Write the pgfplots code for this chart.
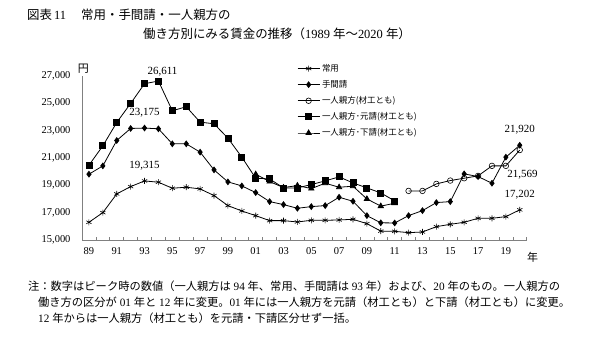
\documentclass[border=0pt]{standalone}
\usepackage{fontspec}
\setmainfont{Liberation Serif}
\newfontfamily\cjk{Noto Sans CJK JP}
\usepackage{pgfplots}
\pgfplotsset{compat=1.18}
\begin{document}
\begin{tikzpicture}
\path[use as bounding box, fill=white] (0,0) rectangle (600bp,342bp);
\begin{axis}[
  at={(82bp,102bp)}, anchor=south west,
  scale only axis, width=444.7bp, height=164.3bp,
  xmin=88.5, xmax=120.5, ymin=15000, ymax=27000,
  axis x line=bottom, axis y line=left,
  axis line style={-, draw=gray, line width=0.8pt},
  xtick={89,91,...,119},
  xticklabels={89,91,93,95,97,99,01,03,05,07,09,11,13,15,17,19},
  minor xtick={88.5,89.5,...,120.5},
  major tick length=0pt,
  minor tick length=3bp,
  minor tick style={draw=gray, line width=0.6pt},
  tick align=inside,
  ytick={15000,17000,...,27000},
  scaled y ticks=false,
  /pgf/number format/1000 sep={,},
  /pgf/number format/assume math mode=true,
  ticklabel style={font=\fontsize{10.5}{12}\selectfont},
  xticklabel style={yshift=-4.5bp},
  yticklabel style={xshift=-8bp},
  clip=false,
  every axis plot/.append style={black, line width=0.8pt},
  legend style={draw=none, fill=none, at={(0.4835,1.083)}, anchor=north west,
    font=\fontsize{8.5}{10}\selectfont\cjk, row sep=3.5bp, inner sep=0pt},
  legend cell align=left,
  legend image code/.code={\draw[mark repeat=2,mark phase=2,#1] plot coordinates {(0bp,0bp)(11bp,0bp)(22bp,0bp)};},
]
% 常用
\addplot[mark=asterisk, mark size=3bp, mark options={line width=0.6pt}] coordinates {
(89,16295)(90,17000)(91,18366)(92,18900)(93,19315)(94,19220)(95,18780)(96,18855)
(97,18732)(98,18244)(99,17512)(100,17122)(101,16780)(102,16414)(103,16414)(104,16317)
(105,16440)(106,16440)(107,16463)(108,16512)(109,16195)(110,15650)(111,15634)(112,15536)
(113,15585)(114,15975)(115,16146)(116,16293)(117,16585)(118,16585)(119,16707)(120,17202)};
\addlegendentry{常用}
% 手間請
\addplot[mark=diamond*, mark size=2.8bp] coordinates {
(89,19806)(90,20415)(91,22268)(92,23146)(93,23175)(94,23122)(95,22024)(96,22024)
(97,21417)(98,20122)(99,19244)(100,18951)(101,18463)(102,17805)(103,17585)(104,17317)
(105,17439)(106,17512)(107,18122)(108,17830)(109,16780)(110,16256)(111,16244)(112,16780)
(113,17146)(114,17732)(115,17805)(116,19829)(117,19634)(118,19146)(119,21049)(120,21920)};
\addlegendentry{手間請}
% 一人親方（材工とも）
\addplot[mark=o, mark size=2.8bp, mark options={fill=white, line width=0.6pt}] coordinates {
(112,18585)(113,18585)(114,19098)(115,19341)(116,19512)(117,19683)(118,20415)(119,20415)(120,21569)};
\addlegendentry{一人親方(材工とも)}
% 一人親方・元請
\addplot[mark=square*, mark size=3bp] coordinates {
(89,20463)(90,21878)(91,23585)(92,24975)(93,26415)(94,26611)(95,24439)(96,24732)
(97,23609)(98,23488)(99,22439)(100,21049)(101,19512)(102,19463)(103,18805)(104,18805)
(105,19049)(106,19317)(107,19610)(108,19171)(109,18805)(110,18440)(111,17854)};
\addlegendentry{一人親方･元請(材工とも)}
% 一人親方・下請
\addplot[mark=triangle*, mark size=3bp] coordinates {
(101,19806)(102,19268)(103,18829)(104,18975)(105,18756)(106,19146)(107,18854)(108,18927)
(109,18000)(110,17475)(111,17683)};
\addlegendentry{一人親方･下請(材工とも)}
\begin{scope}[every node/.style={font=\fontsize{11}{13}\selectfont}]
\node at (axis cs:94.3,27315) {26,611};
\node at (axis cs:93,24315) {23,175};
\node at (axis cs:93,20415) {19,315};
\node at (axis cs:120,23049) {21,920};
\node at (axis cs:120.2,19756) {21,569};
\node at (axis cs:120,18293) {17,202};
\end{scope}
\end{axis}
\node[font=\fontsize{11}{13}\selectfont\cjk] at (83.3bp,273.7bp) {円};
\node[font=\fontsize{11}{13}\selectfont\cjk] at (532.7bp,84.7bp) {年};
\node[anchor=west, inner sep=0pt, font=\fontsize{12.5}{15}\selectfont] at (27bp,327bp)
  {{\cjk 図表}\,11\hspace{15bp}{\cjk 常用・手間請・一人親方の}};
\node[anchor=west, inner sep=0pt, font=\fontsize{12.5}{15}\selectfont] at (143bp,308.7bp)
  {{\cjk 働き方別にみる賃金の推移（}1989 {\cjk 年～}2020 {\cjk 年）}};
\begin{scope}[every node/.style={anchor=west, inner sep=0pt, font=\fontsize{11.3}{13}\selectfont}]
\node at (28bp,56bp) {{\cjk 注：数字はピーク時の数値（一人親方は} 94 {\cjk 年、常用、手間請は} 93 {\cjk 年）および、}20 {\cjk 年のもの。一人親方の}};
\node at (38bp,40bp) {{\cjk 働き方の区分が} 01 {\cjk 年と} 12 {\cjk 年に変更。}01 {\cjk 年には一人親方を元請（材工とも）と下請（材工とも）に変更。}};
\node at (38bp,24bp) {12 {\cjk 年からは一人親方（材工とも）を元請・下請区分せず一括。}};
\end{scope}
\end{tikzpicture}
\end{document}
